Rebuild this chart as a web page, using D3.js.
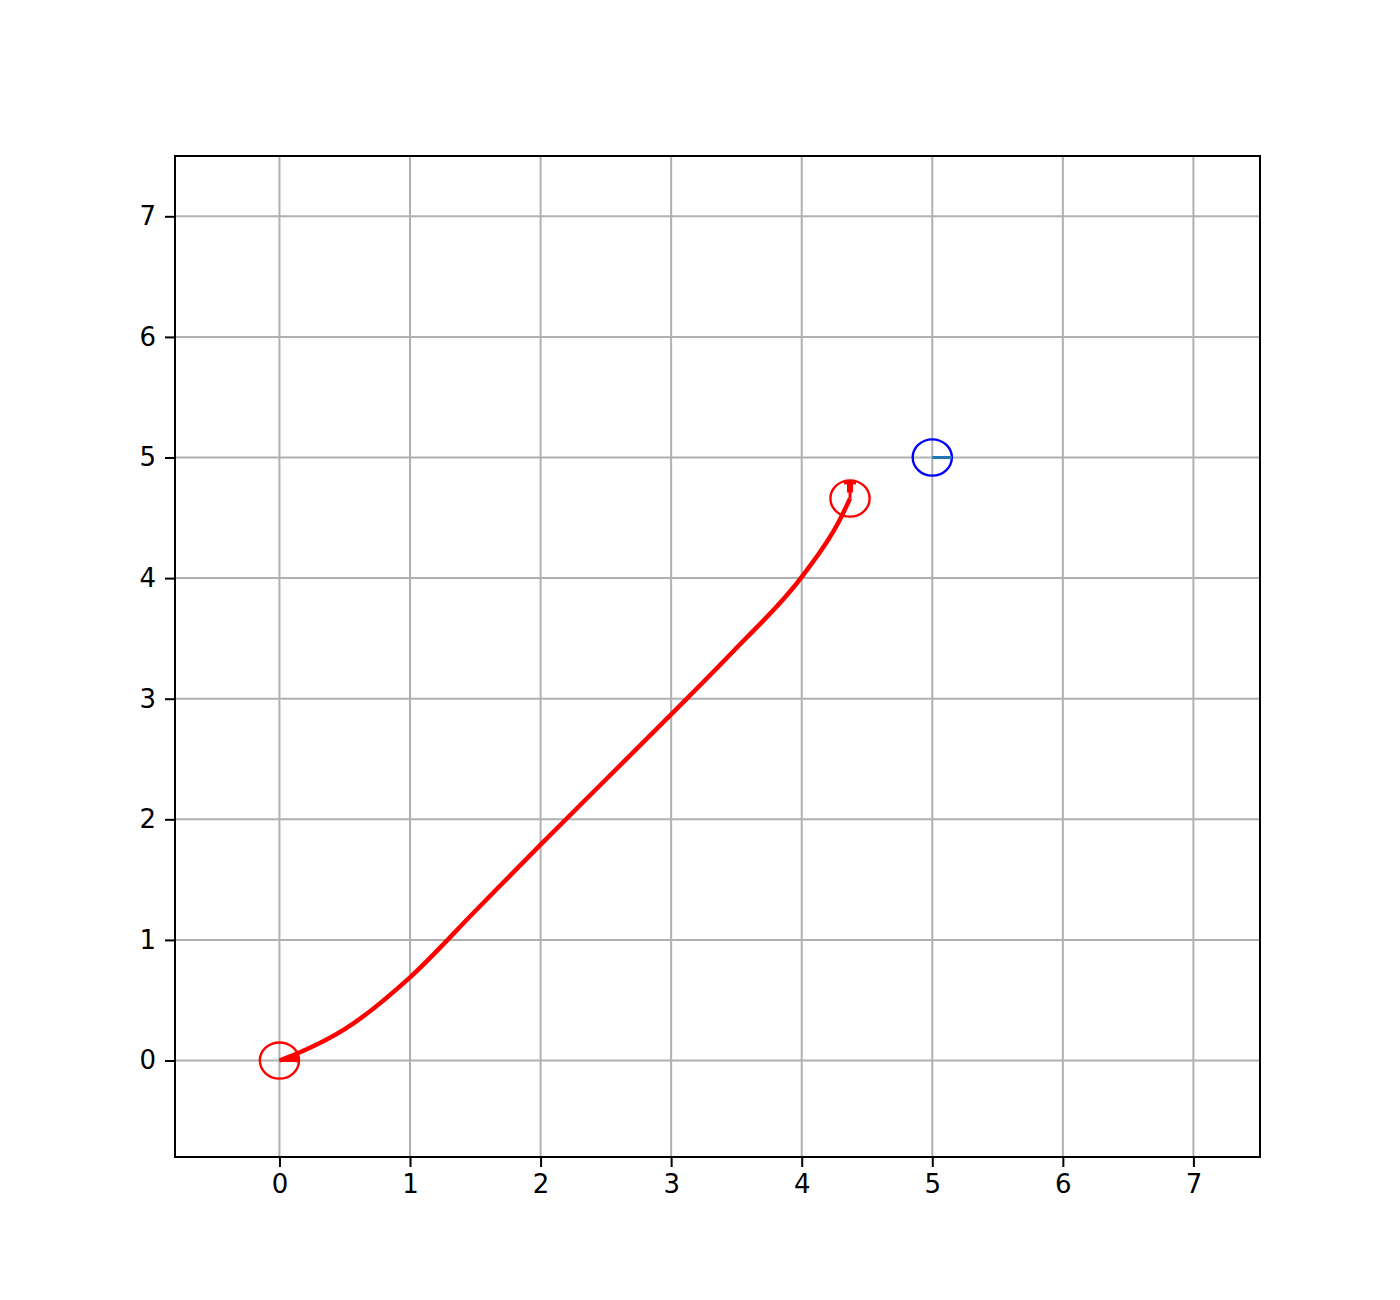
<!DOCTYPE html>
<html><head><meta charset="utf-8">
<script src="https://cdn.jsdelivr.net/npm/d3@7"></script>
<style>body{margin:0;background:#fff}svg{display:block}</style>
</head><body>
<script>
const trajX = [0, 0.14, 0.5, 1.0, 1.5, 2.0, 2.5, 3.0, 3.5, 4.0, 4.29, 4.37];
const trajY = [0, 0.06, 0.26, 0.69, 1.24, 1.79, 2.33, 2.87, 3.42, 4.01, 4.48, 4.66];
const poseX = [0, 4.37, 5];
const poseY = [0, 4.66, 5];
const poseTheta = [0, 90, 0];
const poseColor = ["#ff0000", "#ff0000", "#0000ff"];
const headColor = ["#ff0000", "#ff0000", "#1f77b4"];
const poseR = 0.15;
const xTicks = [0,1,2,3,4,5,6,7];
const yTicks = [0,1,2,3,4,5,6,7];
const xDomain = [-0.8, 7.51];
const yDomain = [-0.8, 7.5];

const W = 1400, H = 1300;
const L = 175, R = 1260, T = 156, B = 1157;
const svg = d3.select("body").append("svg").attr("width", W).attr("height", H);
const x = d3.scaleLinear().domain(xDomain).range([L, R]);
const y = d3.scaleLinear().domain(yDomain).range([B, T]);

svg.append("clipPath").attr("id","c").append("rect")
  .attr("x",L).attr("y",T).attr("width",R-L).attr("height",B-T);

// grid
const g = svg.append("g");
g.selectAll(".gx").data(xTicks).enter().append("line")
  .attr("x1",d=>x(d)).attr("x2",d=>x(d)).attr("y1",T).attr("y2",B)
  .attr("stroke","#b0b0b0").attr("stroke-width",2);
g.selectAll(".gy").data(yTicks).enter().append("line")
  .attr("y1",d=>y(d)).attr("y2",d=>y(d)).attr("x1",L).attr("x2",R)
  .attr("stroke","#b0b0b0").attr("stroke-width",2);

const plot = svg.append("g").attr("clip-path","url(#c)");
const pts = trajX.map((v,i)=>[v, trajY[i]]);
plot.append("path").datum(pts)
  .attr("d", d3.line().x(d=>x(d[0])).y(d=>y(d[1])).curve(d3.curveMonotoneX))
  .attr("fill","none").attr("stroke","#ff0000").attr("stroke-width",4.5)
  .attr("stroke-linejoin","round");

poseX.forEach((px,i)=>{
  const rx = Math.abs(x(poseR)-x(0)), ry = Math.abs(y(poseR)-y(0));
  plot.append("ellipse").attr("cx",x(px)).attr("cy",y(poseY[i]))
    .attr("rx",rx).attr("ry",ry).attr("fill","none")
    .attr("stroke",poseColor[i]).attr("stroke-width",2.4);
  const th = poseTheta[i]*Math.PI/180;
  plot.append("line").attr("x1",x(px)).attr("y1",y(poseY[i]))
    .attr("x2",x(px+poseR*Math.cos(th))).attr("y2",y(poseY[i]+poseR*Math.sin(th)))
    .attr("stroke",headColor[i]).attr("stroke-width",3);
});
// heading tip on the final red pose
[1].forEach(i=>{
  const th = poseTheta[i]*Math.PI/180;
  const ex = x(poseX[i]+poseR*Math.cos(th)), ey = y(poseY[i]+poseR*Math.sin(th));
  plot.append("line").attr("x1",ex-6).attr("x2",ex+6).attr("y1",ey+2).attr("y2",ey+2)
    .attr("stroke","#ff0000").attr("stroke-width",4);
  plot.append("line").attr("x1",ex).attr("x2",ex).attr("y1",ey).attr("y2",y(poseY[i]+0.05))
    .attr("stroke","#ff0000").attr("stroke-width",6);
});
{
  const ex = x(poseX[0]+poseR), ey = y(poseY[0]);
  plot.append("path").attr("d",`M${x(0)},${ey} L${ex},${ey-6} L${ex},${ey+2} Z`)
    .attr("fill","#ff0000");
}

// spines
svg.append("rect").attr("x",L).attr("y",T).attr("width",R-L).attr("height",B-T)
  .attr("fill","none").attr("stroke","#000").attr("stroke-width",2);

// axes
const xa = svg.append("g").attr("transform",`translate(0,${B})`)
  .call(d3.axisBottom(x).tickValues(xTicks).tickSize(10).tickPadding(8).tickFormat(d3.format("d")));
const ya = svg.append("g").attr("transform",`translate(${L},0)`)
  .call(d3.axisLeft(y).tickValues(yTicks).tickSize(10).tickPadding(9).tickFormat(d3.format("d")));
[xa,ya].forEach(a=>{
  a.select(".domain").remove();
  a.selectAll(".tick line").attr("stroke","#000").attr("stroke-width",2);
  a.selectAll("text").attr("font-family","DejaVu Sans").attr("font-size",26).attr("fill","#000");
});
</script>
</body></html>
